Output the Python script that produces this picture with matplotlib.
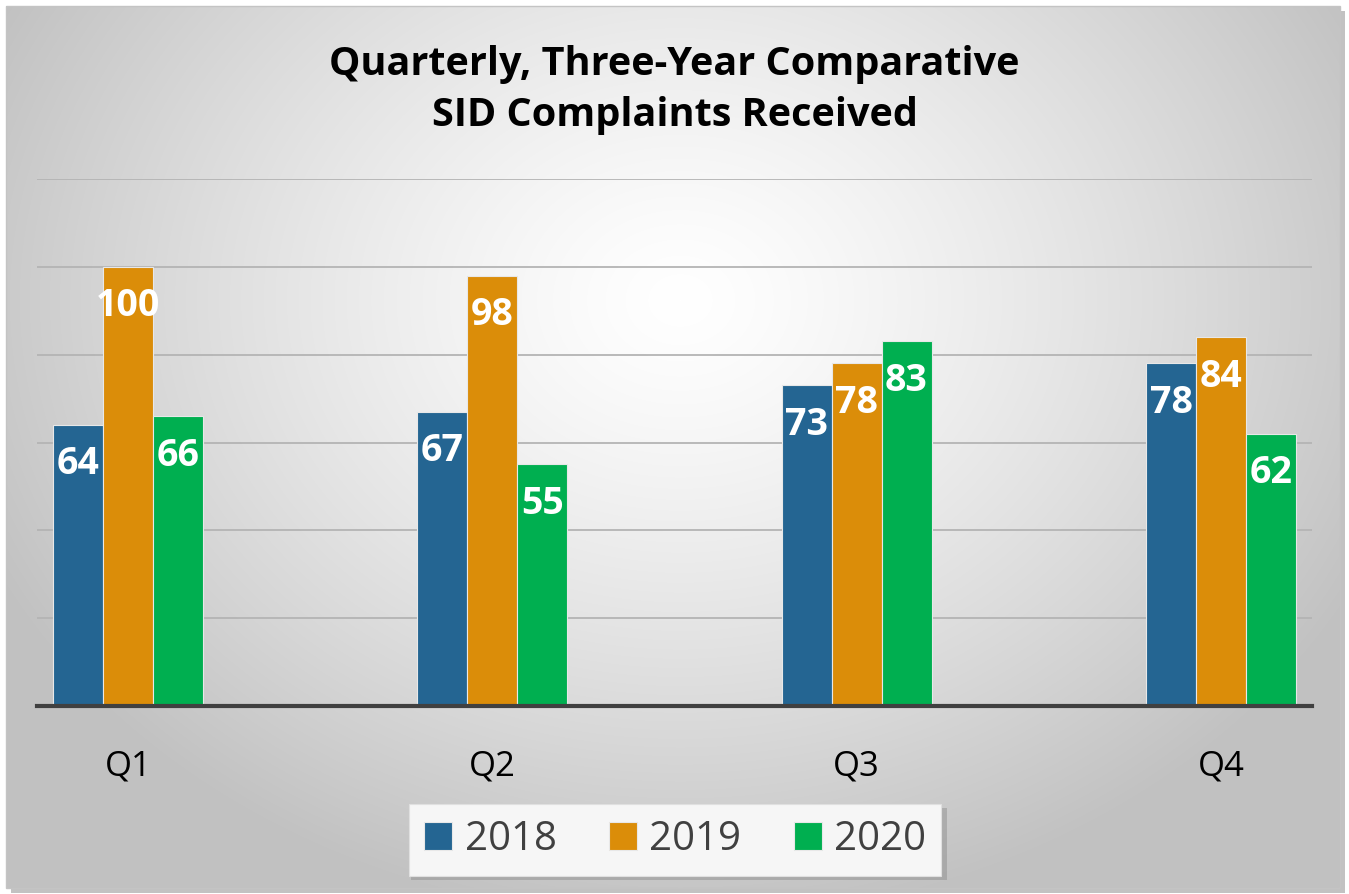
import numpy as np
import matplotlib
matplotlib.use("Agg")
import matplotlib.pyplot as plt
from matplotlib.patches import Rectangle

quarters = ["Q1", "Q2", "Q3", "Q4"]
years = ["2018", "2019", "2020"]
v2018 = [64, 67, 73, 78]
v2019 = [100, 98, 78, 84]
v2020 = [66, 55, 83, 62]
series = [v2018, v2019, v2020]
colors = ["#246592", "#DB8D09", "#00AF50"]
title = "Quarterly, Three-Year Comparative\nSID Complaints Received"

W, H = 1349, 894
fig = plt.figure(figsize=(W / 100, H / 100), dpi=100)
fig.patch.set_facecolor("white")

# background panel with radial gradient
bg = fig.add_axes([0, 0, 1, 1])
bg.set_xlim(0, W)
bg.set_ylim(H, 0)
bg.axis("off")
px0, py0, px1, py1 = 6, 6, 1340, 888
bg.add_patch(Rectangle((px0 + 5, py0 + 5), px1 - px0, py1 - py0, color="#9a9a9a", alpha=0.6, zorder=0, lw=0))
yy, xx = np.mgrid[py0:py1, px0:px1]
cx, cy = 680, 300
r = np.sqrt(((xx - cx) / 760.0) ** 2 + ((yy - cy) / 620.0) ** 2)
r = np.clip(r, 0, 1)
val = 1.0 - 0.24 * r ** 1.3
img = np.dstack([val, val, val])
bg.imshow(img, extent=(px0, px1, py1, py0), zorder=1, interpolation="bilinear", aspect="auto")
bg.add_patch(Rectangle((px0, py0), px1 - px0, py1 - py0, fill=False, ec="#c4c4c4", lw=1, zorder=2))
# legend shadow
bg.add_patch(Rectangle((411, 808), 536, 72, color="#8a8a8a", alpha=0.45, lw=0, zorder=3))

ax = fig.add_axes([37 / W, 1 - 706 / H, (1312 - 37) / W, (706 - 179) / H])
ax.patch.set_alpha(0)
ax.set_xlim(-0.25, 3.25)
ax.set_ylim(0, 120)
ax.set_yticks([0, 20, 40, 60, 80, 100, 120])
ax.yaxis.grid(True, color="#b4b4b4", lw=1.3)
ax.set_axisbelow(True)
ax.tick_params(axis="y", left=False, labelleft=False)
ax.tick_params(axis="x", bottom=False, labelsize=25, pad=28, labelcolor="black")
for s in ["top", "right", "left"]:
    ax.spines[s].set_visible(False)
ax.spines["bottom"].set_color("#404040")
ax.spines["bottom"].set_linewidth(3)
ax.spines["bottom"].set_zorder(5)

x = np.arange(len(quarters))
bw = 0.137
for i, (vals, c, yr) in enumerate(zip(series, colors, years)):
    pos = x + (i - 1) * bw
    bars = ax.bar(pos, vals, width=bw, color=c, edgecolor="#e8e8e8", lw=0.8, label=yr, zorder=3)
    for b, v in zip(bars, vals):
        ax.text(b.get_x() + b.get_width() / 2, v - 9, str(v), ha="center", va="center",
                color="white", fontsize=27, fontweight="bold", family="Open Sans", zorder=4)
ax.set_xticks(x)
ax.set_xticklabels(quarters, family="Open Sans")

fig.text(0.5, 1 - 90 / H, title, ha="center", va="center", fontsize=28.5, fontweight="bold",
         family="Open Sans", color="black", linespacing=1.38)

leg = fig.legend(loc="center", bbox_to_anchor=(675 / W, 1 - 840 / H), ncol=3, frameon=True,
                 prop={"family": "Open Sans", "size": 29}, handlelength=0.7, handleheight=0.7,
                 handletextpad=0.3, columnspacing=1.3, borderpad=0.38, fancybox=False, shadow=False)
for t in leg.get_texts():
    t.set_color("#404040")
fr = leg.get_frame()
fr.set_facecolor("#f6f6f6")
fr.set_edgecolor("#e0e0e0")
fr.set_linewidth(0.8)
fr.set_alpha(1)

fig.savefig("out.png", dpi=100)
